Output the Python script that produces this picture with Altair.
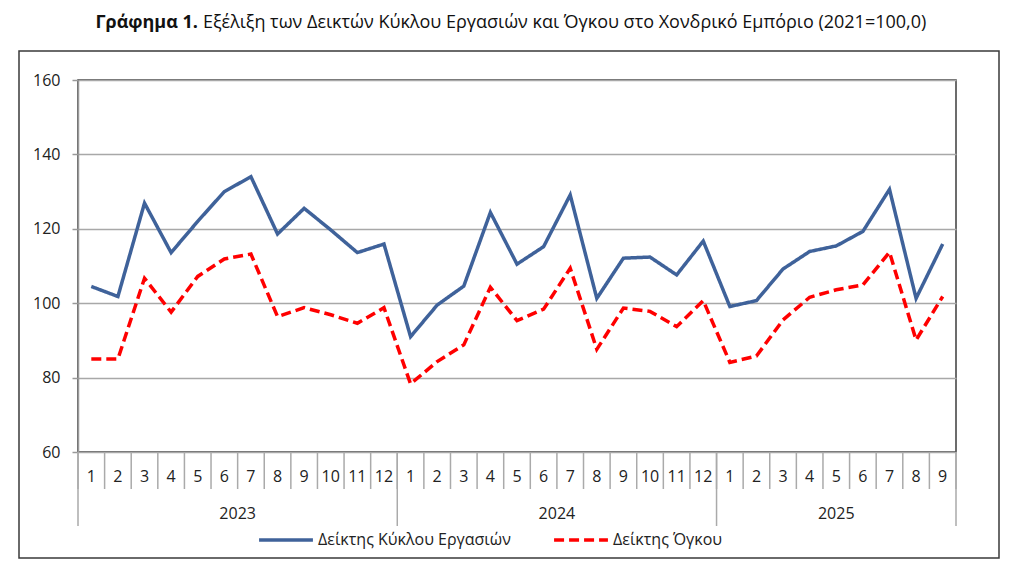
import altair as alt
import pandas as pd

FONT = "Open Sans"

months = [1, 2, 3, 4, 5, 6, 7, 8, 9, 10, 11, 12,
          1, 2, 3, 4, 5, 6, 7, 8, 9, 10, 11, 12,
          1, 2, 3, 4, 5, 6, 7, 8, 9]
years = ["2023"] * 12 + ["2024"] * 12 + ["2025"] * 9

turnover = [104.5, 101.8, 126.9, 113.6, 122.0, 130.0, 134.0, 118.6, 125.5, 119.7, 113.6, 115.9,
            91.0, 99.5, 104.6, 124.4, 110.5, 115.2, 129.1, 101.3, 112.1, 112.4, 107.6, 116.7,
            99.1, 100.7, 109.2, 113.9, 115.4, 119.3, 130.6, 101.3, 115.9]
volume = [85.0, 85.0, 106.7, 97.6, 107.2, 111.9, 113.2, 96.4, 98.8, 96.9, 94.6, 98.8,
          78.3, 84.3, 88.8, 104.3, 95.3, 98.4, 109.4, 87.6, 98.7, 97.8, 93.7, 100.7,
          84.1, 85.8, 95.5, 101.6, 103.6, 104.9, 113.7, 90.1, 101.8]

series_names = ["Δείκτης Κύκλου Εργασιών", "Δείκτης Όγκου"]
series_colors = ["#3F629A", "#FF0000"]
series_dash = [[1, 0], [10, 5]]

title_bold = "Γράφημα 1."
title_rest = "Εξέλιξη των Δεικτών Κύκλου Εργασιών και Όγκου στο Χονδρικό Εμπόριο (2021=100,0)"

y_ticks = [60, 80, 100, 120, 140, 160]

W, H = 878, 372
n = len(months)
idx = list(range(n))

df = pd.DataFrame({
    "i": idx + idx,
    "value": turnover + volume,
    "series": [series_names[0]] * n + [series_names[1]] * n,
})
mdf = pd.DataFrame({"i": idx, "m": [str(m) for m in months]})
bdf = pd.DataFrame({"b": [i - 0.5 for i in idx] + [n - 0.5]})

ystart, yend, ylab = [], [], []
for i, yv in enumerate(years):
    if not ylab or ylab[-1] != yv:
        ylab.append(yv)
        ystart.append(i)
        yend.append(i)
    else:
        yend[-1] = i
ydf = pd.DataFrame({"y": ylab, "c": [(s + e) / 2 for s, e in zip(ystart, yend)]})
ybdf = pd.DataFrame({"b": [s - 0.5 for s in ystart] + [yend[-1] + 0.5]})

xscale = alt.Scale(domain=[-0.5, n - 0.5], nice=False, zero=False)

border = alt.Chart(pd.DataFrame({"k": [0]})).mark_rect(
    fillOpacity=0, stroke="#3a3a3a", strokeWidth=1.5
).encode(x=alt.value(-59), x2=alt.value(921), y=alt.value(-29), y2=alt.value(478))

t1 = alt.Chart(pd.DataFrame({"t": [title_bold]})).mark_text(
    font=FONT, fontSize=18, fontWeight="bold", align="right", baseline="middle", color="#111"
).encode(x=alt.value(120), y=alt.value(-57), text="t:N")
t2 = alt.Chart(pd.DataFrame({"t": [title_rest]})).mark_text(
    font=FONT, fontSize=18, align="left", baseline="middle", color="#111"
).encode(x=alt.value(125), y=alt.value(-57), text="t:N")

leg = alt.Legend(title=None, orient="none", legendX=179, legendY=431,
                 direction="horizontal", symbolType="stroke",
                 symbolSize=2900, symbolStrokeWidth=3.5,
                 labelFont=FONT, labelFontSize=16, labelColor="#222", labelLimit=400,
                 labelOffset=3, columnPadding=36)

lines = alt.Chart(df).mark_line(strokeWidth=3.5, strokeCap="butt").encode(
    x=alt.X("i:Q", scale=xscale, axis=None),
    y=alt.Y("value:Q", scale=alt.Scale(domain=[60, 160], nice=False, zero=False),
            axis=alt.Axis(values=y_ticks, grid=True, gridColor="#a8a8a8", gridWidth=1.5,
                          domainColor="#999", domainWidth=1.5, tickColor="#999", tickWidth=1.5,
                          tickSize=6, labelPadding=12, labelFont=FONT, labelFontSize=16,
                          labelColor="#222", title=None)),
    color=alt.Color("series:N", scale=alt.Scale(domain=series_names, range=series_colors),
                    legend=leg),
    strokeDash=alt.StrokeDash("series:N", scale=alt.Scale(domain=series_names, range=series_dash),
                              legend=leg),
    detail="series:N",
)

msep = alt.Chart(bdf).mark_rule(color="#aaaaaa", strokeWidth=1.5).encode(
    x=alt.X("b:Q", scale=xscale, axis=None), y=alt.value(H), y2=alt.value(H + 37))
ysep = alt.Chart(ybdf).mark_rule(color="#aaaaaa", strokeWidth=1.5).encode(
    x=alt.X("b:Q", scale=xscale, axis=None), y=alt.value(H), y2=alt.value(H + 74))

mtext = alt.Chart(mdf).mark_text(font=FONT, fontSize=16, color="#222", baseline="middle").encode(
    x=alt.X("i:Q", scale=xscale, axis=None), y=alt.value(H + 25), text="m:N")
ytext = alt.Chart(ydf).mark_text(font=FONT, fontSize=16, color="#222", baseline="middle").encode(
    x=alt.X("c:Q", scale=xscale, axis=None), y=alt.value(H + 62), text="y:N")

chart = alt.layer(border, t1, t2, msep, ysep, mtext, ytext, lines).properties(
    width=W, height=H,
    autosize=alt.AutoSizeParams(type="none"),
    padding={"left": 70, "top": 72, "right": 60, "bottom": 118},
).configure_view(stroke="#3c3c3c", strokeWidth=1.5)

chart.save("out.html", embed_options={"renderer": "svg", "actions": False})
